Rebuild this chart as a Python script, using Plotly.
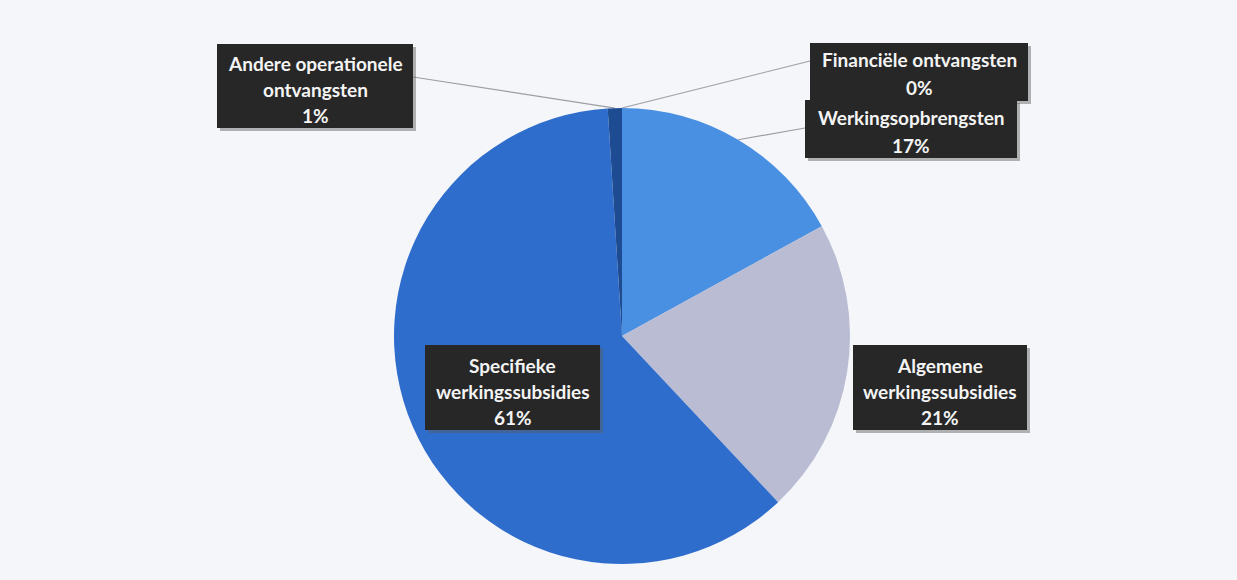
import math
import plotly.graph_objects as go

# Revenue breakdown (share of total, %), clockwise from 12 o'clock
categories = [
    "Financiële ontvangsten",
    "Werkingsopbrengsten",
    "Algemene werkingssubsidies",
    "Specifieke werkingssubsidies",
    "Andere operationele ontvangsten",
]
shares = [0, 17, 21, 61, 1]
label_lines = [
    ["Financiële ontvangsten"],
    ["Werkingsopbrengsten"],
    ["Algemene", "werkingssubsidies"],
    ["Specifieke", "werkingssubsidies"],
    ["Andere operationele", "ontvangsten"],
]
slice_colors = ["#1f4f96", "#4a90e2", "#b9bcd3", "#2f6dcc", "#1e4c92"]

W, H = 1237, 580
CX, CY, R = 622, 336, 228

# Label boxes in pixels: (x0, y0, x1, y1), text line centres, leader-line anchor on box
boxes = [
    dict(box=(810, 43, 1028, 101), ys=[60, 88], anchor=(810, 61), leader=True),
    dict(box=(805, 100, 1017, 158), ys=[117, 145], anchor=(805, 128), leader=True),
    dict(box=(853, 345, 1027, 430), ys=[365, 391, 417], anchor=None, leader=False),
    dict(box=(425, 345, 600, 430), ys=[365, 391, 417], anchor=None, leader=False),
    dict(box=(217, 44, 413, 128), ys=[63, 89, 115], anchor=(413, 77), leader=True),
]


def px(x):
    return x / W


def py(y):
    return 1 - y / H


fig = go.Figure(
    go.Pie(
        labels=categories,
        values=shares,
        sort=False,
        direction="clockwise",
        rotation=0,
        marker=dict(colors=slice_colors, line=dict(width=0)),
        textinfo="none",
        hoverinfo="label+percent",
        showlegend=False,
        domain=dict(x=[px(CX - R), px(CX + R)], y=[py(CY + R), py(CY - R)]),
    )
)

shapes = []
annotations = []
total = sum(shares)
cum = 0
for i, (name, val) in enumerate(zip(categories, shares)):
    mid = (cum + val / 2) / total
    cum += val
    theta = 2 * math.pi * mid
    ex = CX + R * math.sin(theta)
    ey = CY - R * math.cos(theta)
    b = boxes[i]
    x0, y0, x1, y1 = b["box"]
    if b["leader"]:
        ax, ay = b["anchor"]
        shapes.append(dict(type="line", xref="paper", yref="paper",
                           x0=px(ax), y0=py(ay), x1=px(ex), y1=py(ey),
                           line=dict(color="#9c9ea6", width=1.2), layer="below"))
    # drop shadow
    shapes.append(dict(type="rect", xref="paper", yref="paper",
                       x0=px(x0 + 3), y0=py(y1 + 3), x1=px(x1 + 3), y1=py(y0 + 3),
                       fillcolor="rgba(90,90,90,0.45)", line=dict(width=0)))
    shapes.append(dict(type="rect", xref="paper", yref="paper",
                       x0=px(x0), y0=py(y1), x1=px(x1), y1=py(y0),
                       fillcolor="#272727", line=dict(width=0)))
    lines = label_lines[i] + [f"{round(100 * val / total)}%"]
    for txt, ty in zip(lines, b["ys"]):
        annotations.append(dict(xref="paper", yref="paper", x=px((x0 + x1) / 2), y=py(ty),
                                text=f"<b>{txt}</b>", showarrow=False,
                                xanchor="center", yanchor="middle",
                                font=dict(family="Lato", size=19, color="#f4f4f4")))

fig.update_layout(
    width=W, height=H,
    margin=dict(l=0, r=0, t=0, b=0),
    paper_bgcolor="#f5f6fa",
    plot_bgcolor="#f5f6fa",
    shapes=shapes,
    annotations=annotations,
)

fig.write_html("out.html")
